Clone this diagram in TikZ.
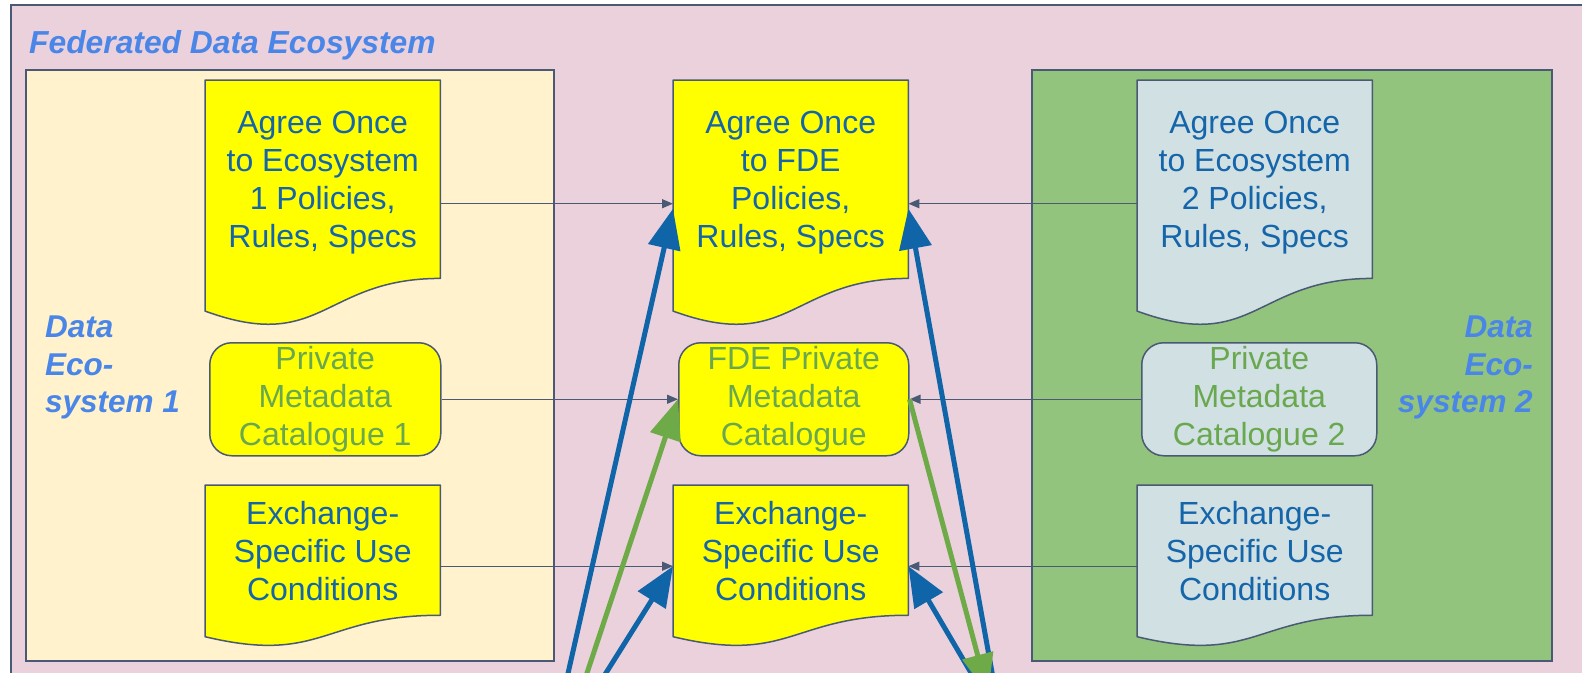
\documentclass[tikz,border=0pt]{standalone}
\usepackage{fontspec}
\setmainfont{Liberation Sans}
\usetikzlibrary{calc,arrows.meta}
\definecolor{bgpink}{HTML}{EAD1DC}
\definecolor{ecoone}{HTML}{FFF2CC}
\definecolor{ecotwo}{HTML}{93C47D}
\definecolor{docyellow}{HTML}{FFFF00}
\definecolor{docgray}{HTML}{D0E0E3}
\definecolor{lineC}{HTML}{4A5A75}
\definecolor{txtblue}{HTML}{1565AA}
\definecolor{labelblue}{HTML}{4A86E8}
\definecolor{catgreen}{HTML}{6AA84F}
\definecolor{arrowblue}{HTML}{0F65A8}
\definecolor{arrowgreen}{HTML}{6EAB48}
\newcommand\docwave[2]{%
  \path[fill=#2, draw=lineC, line width=1.5pt, line join=round]
    (#1.north west) -- (#1.north east) -- ($(#1.north east)!0.802!(#1.south east)$)
    .. controls ($(#1.north)!0.802!(#1.south)$) and ($(#1.north)!1.1075!(#1.south)$) ..
    ($(#1.north west)!0.934!(#1.south west)$) -- cycle;}
\begin{document}
\begin{tikzpicture}[x=1pt,y=-1pt,
  frame/.style={draw=lineC, line width=2pt, fill=bgpink, inner sep=0, anchor=north west},
  ecobox/.style={draw=lineC, line width=2pt, inner sep=0, anchor=north west},
  titletext/.style={text=labelblue, font=\fontsize{31.8}{37.5}\selectfont\bfseries\itshape, inner sep=0},
  ecolabel/.style={text=labelblue, font=\fontsize{31.5}{37.5}\selectfont\bfseries\itshape, inner sep=0},
  docnode/.style={draw=none, inner sep=0, anchor=north west, minimum width=235},
  doctext/.style={text=txtblue, font=\fontsize{32}{37.8}\selectfont, align=center, inner sep=0},
  catnode/.style={draw=lineC, line width=1.5pt, rounded corners=22pt, inner sep=0, anchor=north west,
    minimum width=231, minimum height=113, text=catgreen, font=\fontsize{32}{37.8}\selectfont, align=center},
  smallarrow/.style={draw=lineC, line width=1.4pt, -{Triangle[length=11pt,width=9pt]}},
  bigblue/.style={draw=arrowblue, line width=5pt, -{Triangle[length=40pt,width=32pt]}},
  biggreen/.style={draw=arrowgreen, line width=5pt, -{Triangle[length=40pt,width=31pt]}}
]
\useasboundingbox (0,0) rectangle (1582,672);
\clip (0,0) rectangle (1582,672);
\node[frame, minimum width=1620, minimum height=720] (fde) at (10,4) {};
\node[titletext, anchor=base west] (ttl) at (29,53) {Federated Data Ecosystem};
% ecosystems
\node[ecobox, fill=ecoone, minimum width=528, minimum height=591] (e1) at (25,69) {};
\node[ecobox, fill=ecotwo, minimum width=520, minimum height=591] (e2) at (1031,69) {};
\node[ecolabel, align=left, anchor=north west] (e1l) at (45,316) {Data\\Eco-\\system 1};
\node[ecolabel, align=right, anchor=north east] (e2l) at (1533,316) {Data\\Eco-\\system 2};
% top documents
\node[docnode, minimum height=247] (l1) at (205,80) {};
\docwave{l1}{docyellow}
\node[doctext] (l1t) at ($(l1.north)!0.415!(l1.south)$) {Agree Once\\to Ecosystem\\1 Policies,\\Rules, Specs};
\node[docnode, minimum height=247] (m1) at (673,80) {};
\docwave{m1}{docyellow}
\node[doctext] (m1t) at ($(m1.north)!0.415!(m1.south)$) {Agree Once\\to FDE\\Policies,\\Rules, Specs};
\node[docnode, minimum height=247] (r1) at (1137,80) {};
\docwave{r1}{docgray}
\node[doctext] (r1t) at ($(r1.north)!0.415!(r1.south)$) {Agree Once\\to Ecosystem\\2 Policies,\\Rules, Specs};
% catalogues
\node[catnode, fill=docyellow] (l2) at (209,342) {Private\\Metadata\\Catalogue 1};
\node[catnode, fill=docyellow, minimum width=230] (m2) at (678,342) {FDE Private\\Metadata\\Catalogue};
\node[catnode, fill=docgray, minimum width=235] (r2) at (1141,342) {Private\\Metadata\\Catalogue 2};
% exchange documents
\node[docnode, minimum height=162] (l3) at (205,485) {};
\docwave{l3}{docyellow}
\node[doctext] (l3t) at ($(l3.north)!0.405!(l3.south)$) {Exchange-\\Specific Use\\Conditions};
\node[docnode, minimum height=162] (m3) at (673,485) {};
\docwave{m3}{docyellow}
\node[doctext] (m3t) at ($(m3.north)!0.405!(m3.south)$) {Exchange-\\Specific Use\\Conditions};
\node[docnode, minimum height=162] (r3) at (1137,485) {};
\docwave{r3}{docgray}
\node[doctext] (r3t) at ($(r3.north)!0.405!(r3.south)$) {Exchange-\\Specific Use\\Conditions};
% small connectors
\draw[smallarrow] (l1.east) -- (m1.west);
\draw[smallarrow] (r1.west) -- (m1.east);
\draw[smallarrow] (l2.east) -- (m2.west);
\draw[smallarrow] (r2.west) -- (m2.east);
\draw[smallarrow] (l3.east) -- (m3.west);
\draw[smallarrow] (r3.west) -- (m3.east);
% big arrows from below
\coordinate (b1s) at (562,700);
\coordinate (g1s) at (578,700);
\coordinate (b2s) at (589,700);
\coordinate (b3s) at (987,700);
\coordinate (b4s) at (997,700);
\coordinate (g2e) at (988,694);
\draw[bigblue] (b1s) -- ([yshift=-5pt]m1.west);
\draw[biggreen] (g1s) -- (m2.west);
\draw[bigblue] (b2s) -- (m3.west);
\draw[bigblue] (b3s) -- (m3.east);
\draw[bigblue] (b4s) -- ([yshift=-5pt]m1.east);
\draw[biggreen] (m2.east) -- (g2e);
\end{tikzpicture}
\end{document}
